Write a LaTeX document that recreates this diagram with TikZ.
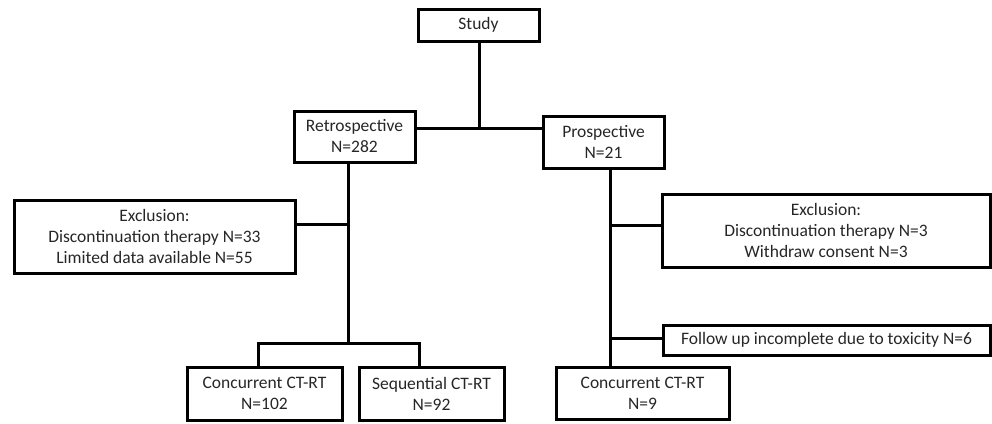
\documentclass[tikz,border=0pt]{standalone}
\usepackage{fontspec}
\setmainfont{Carlito}
\begin{document}
\begin{tikzpicture}[x=1pt,y=-1pt,
  box/.style={draw=black,line width=3pt,rectangle,align=center,inner sep=0pt,
    font=\fontsize{17.5}{21}\selectfont,text=black!85},
  conn/.style={draw=black,line width=3pt}]
\useasboundingbox (0,0) rectangle (992,423);
% boxes
\node[box,minimum width=121,minimum height=32] (study) at (478.5,25) {Study};
\node[box,minimum width=121,minimum height=51] (retro) at (354.5,136.5) {Retrospective\\N=282};
\node[box,minimum width=121,minimum height=52] (prosp) at (603.5,142) {Prospective\\N=21};
\node[box,minimum width=281,minimum height=73] (exclL) at (154.5,236.5) {Exclusion:\\Discontinuation therapy N=33\\Limited data available N=55};
\node[box,minimum width=328,minimum height=73] (exclR) at (826,230.5) {Exclusion:\\Discontinuation therapy N=3\\Withdraw consent N=3};
\node[box,minimum width=327,minimum height=30] (follow) at (826.5,340) {Follow up incomplete due to toxicity N=6};
\node[box,minimum width=155,minimum height=53] (concL) at (264.5,393.5) {Concurrent CT-RT\\N=102};
\node[box,minimum width=145,minimum height=53] (seq) at (431.5,393.5) {Sequential CT-RT\\N=92};
\node[box,minimum width=173,minimum height=52] (concR) at (642.5,393) {Concurrent CT-RT\\N=9};
% junctions
\coordinate (jS) at (479,128);
\coordinate (jR) at (348,343);
\coordinate (jRx) at (348,224);
\coordinate (bL) at (258,343);
\coordinate (bR) at (419,343);
\coordinate (jP1) at (610,225);
\coordinate (jP2) at (610,338);
% connectors
\draw[conn] (study.south -| jS) -- (jS);
\draw[conn] (retro.east |- jS) -- (prosp.west |- jS);
\draw[conn] (retro.south -| jR) -- (jR);
\draw[conn] (exclL.east |- jRx) -- (jRx);
\draw[conn] (concL.north -| bL) -- (bL) -- (bR) -- (seq.north -| bR);
\draw[conn] (prosp.south -| jP1) -- (concR.north -| jP1);
\draw[conn] (jP1) -- (exclR.west |- jP1);
\draw[conn] (jP2) -- (follow.west |- jP2);
\end{tikzpicture}
\end{document}
